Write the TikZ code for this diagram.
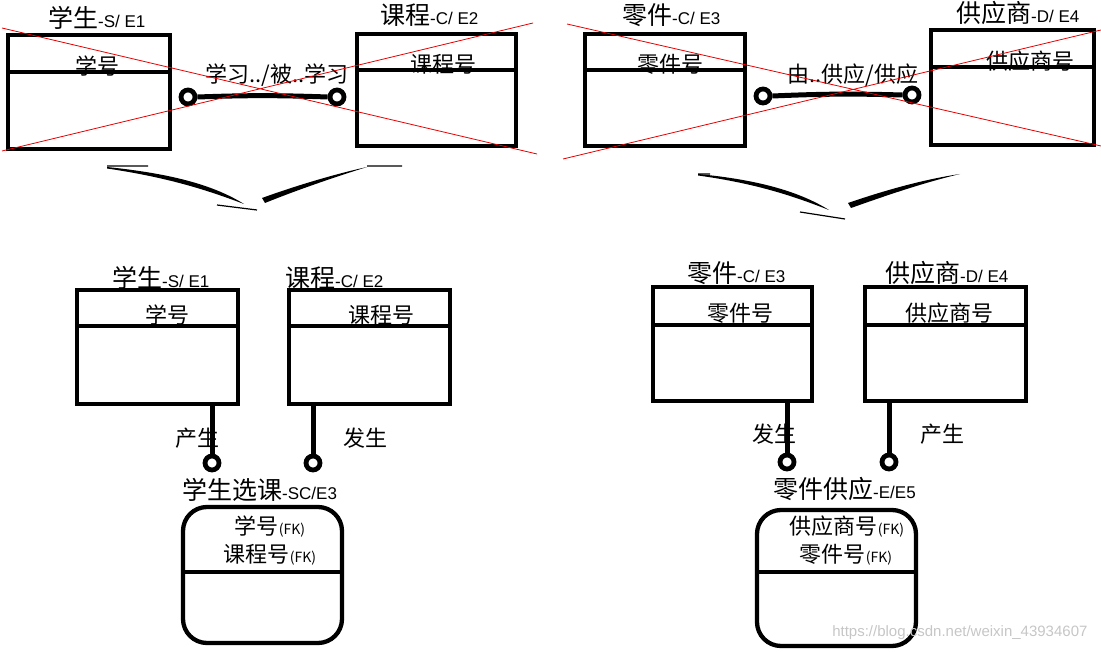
\documentclass[tikz,border=0pt]{standalone}
\usepackage{fontspec}
\setmainfont{Liberation Sans}
\newfontfamily\cjk{Noto Sans CJK SC}
\usetikzlibrary{positioning}
\definecolor{crossred}{RGB}{230,0,0}
\newcommand\enttitle[2]{{\cjk\fontsize{25}{25}\selectfont #1}{\fontsize{17}{17}\selectfont #2}}
\newcommand\fkey[1]{{\cjk #1}{\fontsize{14}{14}\selectfont (FK)}}

\begin{document}
\begin{tikzpicture}[x=1pt,y=-1pt,
  ent/.style={draw,line width=4.3pt,inner sep=0pt,minimum width=160pt,minimum height=114pt},
  dep/.style={ent,rounded corners=24pt,minimum height=136pt},
  ring/.style={circle,draw,fill=white,line width=4.8pt,minimum size=14pt,inner sep=0pt},
  tie/.style={line width=5pt},
  divline/.style={line width=4.3pt},
  crossline/.style={crossred,line width=0.8pt},
  hdr/.style={font=\cjk\fontsize{22}{22}\selectfont,inner sep=0pt},
  ttl/.style={anchor=west,inner sep=0pt}]
\useasboundingbox (0,0) rectangle (1101,652);

% entities, top row
\node[ent,minimum width=162pt] (s1) at (89,92) {};
\node[ent,minimum width=159pt,minimum height=112pt] (c1) at (436.5,90) {};
\node[ent,minimum height=112pt] (p1) at (665,90) {};
\node[ent,minimum width=163pt,minimum height=115pt] (d1) at (1012.5,87.5) {};
% entities, bottom row
\node[ent,minimum width=161pt] (s2) at (157.5,347) {};
\node[ent,minimum width=161pt] (c2) at (369.5,347) {};
\node[ent,minimum width=159pt] (p2) at (732.5,344) {};
\node[ent,minimum width=161pt] (d2) at (945.5,344) {};
\node[dep,minimum width=159pt] (sc) at (262.5,575) {};
\node[dep,minimum width=159pt] (pe) at (836.5,578) {};

% titles
\node[ttl] (s1t) at (48,18) {\enttitle{学生}{-S/ E1}};
\node[ttl] (c1t) at (380,15) {\enttitle{课程}{-C/ E2}};
\node[ttl] (p1t) at (622,15) {\enttitle{零件}{-C/ E3}};
\node[ttl] (d1t) at (956,13) {\enttitle{供应商}{-D/ E4}};
\node[ttl] (s2t) at (112,278) {\enttitle{学生}{-S/ E1}};
\node[ttl] (c2t) at (285,278) {\enttitle{课程}{-C/ E2}};
\node[ttl] (p2t) at (687,273) {\enttitle{零件}{-C/ E3}};
\node[ttl] (d2t) at (885,273) {\enttitle{供应商}{-D/ E4}};
\node[ttl] (sct) at (182,490) {\enttitle{学生选课}{-SC/E3}};
\node[ttl] (pet) at (773,489) {\enttitle{零件供应}{-E/E5}};

% key attributes
\node[hdr] (s1k) at (97,66) {学号};
\node[hdr] (c1k) at (443,64) {课程号};
\node[hdr] (p1k) at (670,64) {零件号};
\node[hdr] (d1k) at (1030,61) {供应商号};
\node[hdr] (s2k) at (167,315) {学号};
\node[hdr] (c2k) at (381,315) {课程号};
\node[hdr] (p2k) at (740,313) {零件号};
\node[hdr] (d2k) at (949,313) {供应商号};
\node[hdr] (sck1) at (270,527) {\fkey{学号}};
\node[hdr] (sck2) at (270,555) {\fkey{课程号}};
\node[hdr] (pek1) at (847,527) {\fkey{供应商号}};
\node[hdr] (pek2) at (846,555) {\fkey{零件号}};

% dividers
\foreach \e/\d in {s1/39,c1/38,p1/38,d1/39,s2/38,c2/38,p2/40,d2/40,sc/67,pe/64}
  \draw[divline] ([yshift=-\d pt]\e.north west) -- ([yshift=-\d pt]\e.north east);

% relationships
\node[ring] (r1) at (188,97) {};
\node[ring] (r2) at (337,97) {};
\node[ring] (r3) at (763,96) {};
\node[ring] (r4) at (912,95) {};
\node[ring] (r5) at (212,463) {};
\node[ring] (r6) at (313,463) {};
\node[ring] (r7) at (787,462) {};
\node[ring] (r8) at (889,462) {};
\draw[tie] (r1.east) to[bend left=2] (r2.west);
\draw[tie] (r3.east) to[bend left=2] (r4.west);
\draw[tie] (r5) -- (r5 |- s2.south);
\draw[tie] (r6) -- (r6 |- c2.south);
\draw[tie] (r7) -- (r7 |- p2.south);
\draw[tie] (r8) -- (r8 |- d2.south);

\node[hdr] (l1) at (277,75) {学习../被..学习};
\node[hdr] (l2) at (853,75) {由..供应/供应};
\node[hdr] (l3) at (197,438) {产生};
\node[hdr] (l4) at (365,438) {发生};
\node[hdr] (l5) at (774,434) {发生};
\node[hdr] (l6) at (942,434) {产生};

% swooshes
\fill (107,167) .. controls (175,174) and (215,186) .. (244,204) .. controls (212,192) and (172,178) .. (107,168.5) -- cycle;
\fill (262,198) .. controls (295,186) and (335,174) .. (367,167) .. controls (335,177) and (297,190) .. (265,203) -- cycle;
\draw[line width=1.2pt] (107,166) -- (148,166) (217,205) -- (257,210) (367,166) -- (402,166);
\fill (698,174) .. controls (760,180) and (800,192) .. (829,210) .. controls (798,198) and (760,184) .. (698,175.5) -- cycle;
\fill (848,203) .. controls (880,192) and (920,180) .. (960,174) .. controls (922,183) and (882,197) .. (851,208) -- cycle;
\draw[line width=1.2pt] (698,174) -- (710,174) (800,212) -- (845,219);

% crossed out
\draw[crossline] (2,28) -- (537,154) (2,151) -- (533,23);
\draw[crossline] (567,24) -- (1101,146) (563,159) -- (1101,30);

\node[anchor=east,text=gray!45,font=\fontsize{15}{15}\selectfont] (wm) at (1091,633) {https://blog.csdn.net/weixin\_43934607};
\end{tikzpicture}
\end{document}
